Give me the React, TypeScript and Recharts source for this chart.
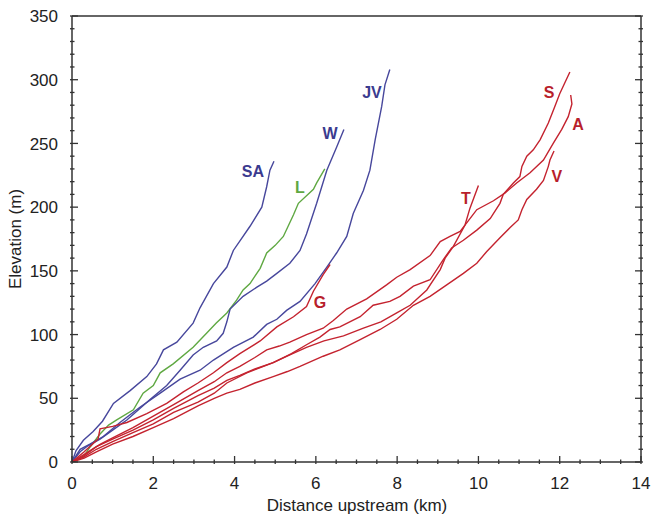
import { LineChart, Line, XAxis, YAxis, ReferenceDot } from "recharts";

// river long profiles: [distance upstream (km), elevation (m)]
const SA = [[0,0],[0.1,9],[0.28,17],[0.52,24],[0.75,32],[1.02,46],[1.43,56],[1.84,67],[2.08,77],[2.25,88],[2.58,94],[2.98,109],[3.15,121],[3.48,140],[3.81,153],[3.97,166],[4.38,185],[4.67,200],[4.79,216],[4.87,229],[4.97,236]];
const L = [[0,0],[0.28,4],[0.45,12],[0.69,22],[0.9,29],[1.1,33],[1.51,41],[1.75,54],[2.0,60],[2.17,70],[2.49,77],[2.98,90],[3.31,101],[3.55,109],[3.81,117],[4.05,127],[4.21,135],[4.38,140],[4.63,152],[4.79,164],[5.0,170],[5.2,177],[5.45,194],[5.57,203],[5.94,214],[6.02,219],[6.22,230]];
const W = [[0,0],[0.2,8],[0.36,12],[0.69,18],[1.0,25],[1.35,33],[1.67,42],[1.92,49],[2.33,60],[2.66,72],[2.98,84],[3.23,90],[3.56,95],[3.72,101],[3.81,110],[3.89,120],[4.21,130],[4.54,137],[4.79,142],[5.04,148],[5.36,156],[5.61,166],[5.77,179],[6.02,203],[6.27,229],[6.51,247],[6.69,261]];
const JV = [[0,0],[0.2,10],[0.44,14],[0.77,20],[1.18,31],[1.67,43],[2.17,54],[2.66,65],[3.15,72],[3.48,80],[3.97,90],[4.46,98],[4.79,108],[5.04,112],[5.28,119],[5.61,126],[5.98,140],[6.27,153],[6.51,164],[6.76,177],[6.92,195],[7.17,213],[7.33,229],[7.46,253],[7.62,279],[7.7,296],[7.82,308]];
const G = [[0,0],[0.3,8],[0.64,18],[0.69,26],[1.0,28],[1.35,31],[1.84,38],[2.33,46],[2.74,55],[3.1,62],[3.48,70],[3.81,78],[4.13,85],[4.63,95],[5.04,106],[5.45,114],[5.77,122],[5.94,134],[6.18,147],[6.35,155]];
const T = [[0,0],[0.3,4],[0.6,10],[1.0,16],[1.5,23],[2.0,30],[2.5,39],[3.1,47],[3.5,54],[3.81,62],[4.3,70],[4.95,78],[5.36,84],[5.77,90],[6.2,95],[6.68,99],[7.17,105],[7.6,110],[7.99,117],[8.32,123],[8.73,135],[9.06,151],[9.18,160],[9.38,169],[9.67,186],[9.79,199],[10.0,217]];
const S = [[0,0],[0.3,5],[0.6,12],[1.0,18],[1.5,25],[2.0,33],[2.5,42],[3.1,52],[3.5,58],[3.81,64],[4.13,68],[4.5,73],[4.95,78],[5.4,85],[5.77,92],[6.1,98],[6.35,104],[6.59,106],[7.09,114],[7.41,123],[7.82,126],[8.07,130],[8.4,138],[8.81,143],[9.14,159],[9.34,168],[9.63,174],[9.96,182],[10.29,191],[10.53,203],[10.61,210],[10.86,219],[11.02,224],[11.07,232],[11.19,240],[11.35,245],[11.52,253],[11.72,266],[11.88,279],[12.0,289],[12.25,306]];
const A = [[0,0],[0.3,6],[0.7,14],[1.0,19],[1.5,27],[2.0,36],[2.5,45],[3.1,56],[3.5,63],[3.81,70],[4.13,75],[4.5,82],[4.79,88],[5.1,91],[5.36,94],[5.77,100],[6.18,105],[6.43,111],[6.76,120],[7.25,128],[7.74,139],[7.99,145],[8.32,151],[8.81,162],[9.06,173],[9.3,177],[9.55,181],[9.96,198],[10.37,205],[10.65,211],[10.94,219],[11.27,227],[11.6,237],[11.84,250],[12.05,261],[12.21,271],[12.3,281],[12.27,288]];
const V = [[0,0],[0.3,3],[0.6,8],[1.0,14],[1.5,20],[2.0,27],[2.5,34],[3.1,44],[3.5,50],[3.81,54],[4.13,57],[4.5,62],[4.95,67],[5.3,71],[5.61,75],[6.18,83],[6.59,88],[7.09,96],[7.58,104],[7.99,112],[8.4,123],[8.81,130],[9.22,139],[9.63,148],[9.96,156],[10.2,165],[10.53,176],[10.78,184],[10.98,190],[11.07,198],[11.19,206],[11.43,214],[11.6,221],[11.72,232],[11.76,237],[11.86,244]];

const BLUE = "#47479c";
const GREEN = "#5fa842";
const RED = "#c4232f";
const BLUE_TXT = "#3b3b8f";
const RED_TXT = "#b81f2c";

const series = [
  { name: "SA", pts: SA, color: BLUE },
  { name: "L", pts: L, color: GREEN },
  { name: "W", pts: W, color: BLUE },
  { name: "JV", pts: JV, color: BLUE },
  { name: "G", pts: G, color: RED },
  { name: "T", pts: T, color: RED },
  { name: "S", pts: S, color: RED },
  { name: "A", pts: A, color: RED },
  { name: "V", pts: V, color: RED },
];

// where each river name sits
const labels = [
  { text: "SA", x: 4.45, y: 228, color: BLUE_TXT },
  { text: "L", x: 5.61, y: 216, color: GREEN },
  { text: "W", x: 6.35, y: 258, color: BLUE_TXT },
  { text: "JV", x: 7.38, y: 290, color: BLUE_TXT },
  { text: "G", x: 6.1, y: 125, color: RED_TXT },
  { text: "T", x: 9.69, y: 207, color: RED_TXT },
  { text: "S", x: 11.74, y: 290, color: RED_TXT },
  { text: "A", x: 12.45, y: 265, color: RED_TXT },
  { text: "V", x: 11.93, y: 224, color: RED_TXT },
];

const xTicks = Array.from({ length: 29 }, (_, i) => i * 0.5);
const yTicks = Array.from({ length: 36 }, (_, i) => i * 10);

const FONT = "'Liberation Sans', Arial, sans-serif";
const AXIS = "#333";

const AxisTick = (props: any) => {
  const { x, y, payload, side } = props;
  const v = payload.value;
  if (side === "bottom" || side === "top") {
    const major = v % 2 === 0;
    const len = major ? 8 : 4.5;
    const dir = side === "bottom" ? -1 : 1;
    return (
      <g>
        <line x1={x} x2={x} y1={y} y2={y + dir * len} stroke={AXIS} strokeWidth={1.3} />
        {side === "bottom" && major && (
          <text x={x} y={y + 25} textAnchor="middle" fontSize={17} fill="#222" fontFamily={FONT}>
            {v}
          </text>
        )}
      </g>
    );
  }
  const major = v % 50 === 0;
  const len = major ? 8 : 4.5;
  const dir = side === "left" ? 1 : -1;
  return (
    <g>
      <line x1={x} x2={x + dir * len} y1={y} y2={y} stroke={AXIS} strokeWidth={1.3} />
      {side === "left" && major && (
        <text x={x - 12} y={y} dy="0.36em" textAnchor="end" fontSize={17} fill="#222" fontFamily={FONT}>
          {v}
        </text>
      )}
    </g>
  );
};

const NameTag = (props: any) => {
  const { cx, cy, tag } = props;
  return (
    <text x={cx} y={cy} dy="0.36em" textAnchor="middle" fontSize={16} fontWeight="bold" fill={tag.color} fontFamily={FONT}>
      {tag.text}
    </text>
  );
};

const ProfileChart = () => {
  return (
    <div style={{ position: "absolute", left: 0, top: 0, background: "#fff" }}>
      <LineChart width={652} height={517} margin={{ top: 15, right: 10, bottom: 0, left: 0 }}>
        <XAxis
          xAxisId="b"
          dataKey="x"
          type="number"
          domain={[0, 14]}
          ticks={xTicks}
          interval={0}
          tickSize={0}
          tickLine={false}
          height={55}
          allowDataOverflow
          axisLine={{ stroke: AXIS, strokeWidth: 1.5 }}
          tick={<AxisTick side="bottom" />}
          label={{
            content: () => (
              <text x={357} y={511} textAnchor="middle" fontSize={17} fill="#222" fontFamily={FONT}>
                Distance upstream (km)
              </text>
            ),
          }}
        />
        <XAxis
          xAxisId="t"
          orientation="top"
          type="number"
          domain={[0, 14]}
          ticks={xTicks}
          interval={0}
          tickSize={0}
          tickLine={false}
          height={1}
          allowDataOverflow
          axisLine={{ stroke: AXIS, strokeWidth: 1.5 }}
          tick={<AxisTick side="top" />}
        />
        <YAxis
          yAxisId="l"
          type="number"
          domain={[0, 350]}
          ticks={yTicks}
          interval={0}
          tickSize={0}
          tickLine={false}
          width={72}
          allowDataOverflow
          axisLine={{ stroke: AXIS, strokeWidth: 1.5 }}
          tick={<AxisTick side="left" />}
          label={{
            content: () => (
              <text
                x={21}
                y={239}
                transform="rotate(-90 21 239)"
                textAnchor="middle"
                fontSize={17}
                fill="#222"
                fontFamily={FONT}
              >
                Elevation (m)
              </text>
            ),
          }}
        />
        <YAxis
          yAxisId="r"
          orientation="right"
          type="number"
          domain={[0, 350]}
          ticks={yTicks}
          interval={0}
          tickSize={0}
          tickLine={false}
          width={1}
          allowDataOverflow
          axisLine={{ stroke: AXIS, strokeWidth: 1.5 }}
          tick={<AxisTick side="right" />}
        />
        {series.map((s) => (
          <Line
            key={s.name}
            xAxisId="b"
            yAxisId="l"
            data={s.pts.map(([x, y]) => ({ x, y }))}
            dataKey="y"
            type="linear"
            stroke={s.color}
            strokeWidth={1.4}
            dot={false}
            activeDot={false}
            isAnimationActive={false}
          />
        ))}
        {labels.map((t) => (
          <ReferenceDot
            key={t.text}
            xAxisId="b"
            yAxisId="l"
            x={t.x}
            y={t.y}
            r={0}
            shape={(p: any) => <NameTag {...p} tag={t} />}
          />
        ))}
      </LineChart>
    </div>
  );
};

export default function App() {
  return <ProfileChart />;
}
